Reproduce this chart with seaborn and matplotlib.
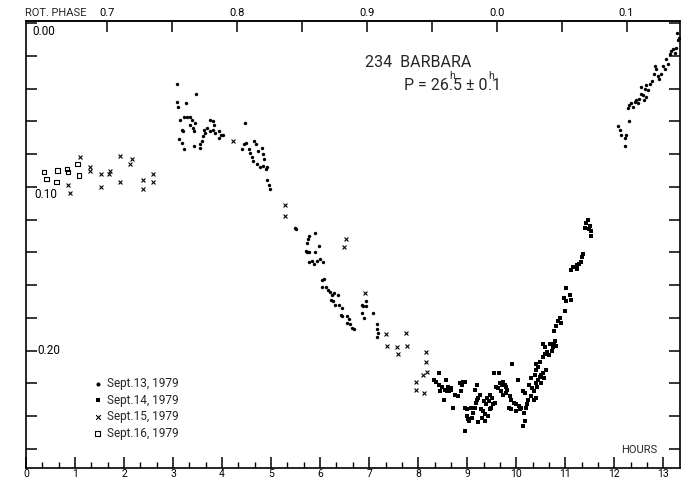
import matplotlib
matplotlib.use("Agg")
import matplotlib.pyplot as plt
import numpy as np
import pandas as pd
import seaborn as sns
from matplotlib.ticker import MultipleLocator, FixedLocator, FixedFormatter

# ---- light-curve data: hours after start, relative magnitude ----
sept13_hours = [
    3.08, 3.47, 3.08, 3.10, 3.27, 3.15, 3.23, 3.28, 3.34, 3.38, 3.45, 3.18, 3.20,
    3.34, 3.41, 3.43, 3.13, 3.18, 3.23, 3.42, 3.55, 3.54, 3.59, 3.62, 3.66, 3.64,
    3.69, 3.76, 3.81, 3.76, 3.81, 3.84, 3.86, 3.93, 3.98, 3.93, 4.02, 4.47, 4.44,
    4.49, 4.40, 4.54, 4.57, 4.61, 4.64, 4.65, 4.69, 4.74, 4.81, 4.83, 4.86, 4.71,
    4.78, 4.84, 4.90, 4.92, 4.91, 4.95, 4.98,
    5.49, 5.50, 5.78, 5.76, 5.73, 5.90, 5.98, 5.71, 5.74, 5.78, 5.90, 5.83, 5.78,
    5.88, 5.94, 6.00, 6.05, 6.03, 6.08, 6.04, 6.12, 6.17, 6.20, 6.24, 6.28, 6.36,
    6.22, 6.27, 6.31, 6.38, 6.44, 6.42, 6.45, 6.55, 6.59, 6.54, 6.61, 6.65, 6.69,
    6.93, 6.85, 6.88, 6.93, 6.85, 6.89, 7.08, 7.15, 7.16, 7.18, 7.15,
    12.07, 12.11, 12.14, 12.21, 12.23, 12.21, 12.31, 12.28, 12.31, 12.35, 12.38,
    12.42, 12.45, 12.48, 12.51, 12.55, 12.58, 12.60, 12.64, 12.55, 12.62, 12.65,
    12.68, 12.72, 12.77, 12.82, 12.86, 12.84, 12.89, 12.92, 12.96, 12.99, 13.03,
    13.06, 13.09, 13.13, 13.16, 13.19, 13.23, 13.26, 13.27, 13.29, 13.32,
]
sept13_mag = [
    0.037, 0.043, 0.048, 0.051, 0.049, 0.059, 0.057, 0.057, 0.057, 0.059, 0.061, 0.065, 0.066,
    0.062, 0.064, 0.066, 0.071, 0.073, 0.077, 0.075, 0.074, 0.076, 0.072, 0.069, 0.067, 0.065,
    0.064, 0.066, 0.065, 0.059, 0.060, 0.062, 0.067, 0.066, 0.068, 0.070, 0.068, 0.061, 0.074,
    0.073, 0.077, 0.077, 0.079, 0.082, 0.084, 0.072, 0.074, 0.078, 0.076, 0.080, 0.083, 0.086,
    0.088, 0.087, 0.089, 0.088, 0.096, 0.099, 0.101,
    0.125, 0.126, 0.130, 0.132, 0.134, 0.128, 0.136, 0.139, 0.140, 0.140, 0.140, 0.145, 0.146,
    0.147, 0.145, 0.144, 0.146, 0.157, 0.156, 0.161, 0.161, 0.163, 0.164, 0.166, 0.165, 0.166,
    0.169, 0.170, 0.172, 0.172, 0.174, 0.178, 0.179, 0.179, 0.181, 0.183, 0.184, 0.186, 0.187,
    0.170, 0.172, 0.173, 0.173, 0.177, 0.180, 0.177, 0.184, 0.187, 0.189, 0.192,
    0.063, 0.065, 0.068, 0.070, 0.068, 0.075, 0.060, 0.052, 0.050, 0.049, 0.051,
    0.048, 0.047, 0.049, 0.046, 0.043, 0.044, 0.047, 0.045, 0.039, 0.040, 0.038,
    0.041, 0.037, 0.035, 0.031, 0.028, 0.026, 0.032, 0.034, 0.031, 0.026, 0.028,
    0.022, 0.025, 0.019, 0.017, 0.016, 0.018, 0.015, 0.006, 0.010, 0.009,
]

sept14_hours = [
    8.43, 8.33, 8.37, 8.43, 8.48, 8.54, 8.58, 8.63, 8.67, 8.61, 8.66, 8.56, 8.44,
    8.53, 8.70, 8.75, 8.81, 8.88, 8.85, 8.92, 8.89, 8.95, 8.95, 8.95, 8.99, 9.00,
    9.02, 9.04, 9.09, 9.11, 9.07, 9.15, 9.18, 9.20, 9.22, 9.15, 9.19, 9.26, 9.29,
    9.32, 9.36, 9.31, 9.36, 9.22, 9.42, 9.46, 9.49, 9.53, 9.56, 9.51, 9.46, 9.41,
    9.34, 9.38, 9.45, 9.54, 9.65, 9.58, 9.66, 9.70, 9.73, 9.77, 9.80, 9.81, 9.79,
    9.73, 9.68, 9.63, 9.87, 9.90, 9.95, 10.00, 10.06, 10.10, 10.07, 9.99, 9.90,
    9.85, 9.92, 10.13, 10.17, 10.24, 10.22, 10.19, 10.15, 10.17, 10.14, 10.04,
    10.27, 10.33, 10.36, 10.40, 10.42, 10.44, 10.48, 10.51, 10.55, 10.60, 10.56,
    10.51, 10.31, 10.36, 10.40, 10.31, 10.38, 10.40, 10.41, 10.44, 10.49, 10.55,
    10.58, 10.63, 10.67, 10.72, 10.74, 10.76, 10.80, 10.55, 10.58, 10.68, 10.82,
    10.78, 10.82, 10.85, 10.89, 10.92, 10.99, 11.02, 10.97, 11.01, 11.09, 11.12,
    11.12, 11.16, 11.23, 11.23, 11.29, 11.33, 11.35, 11.36, 11.40, 11.43, 11.46,
    11.48, 11.50, 11.53, 11.53,
]
sept14_mag = [
    0.214, 0.218, 0.219, 0.221, 0.222, 0.224, 0.225, 0.225, 0.224, 0.222, 0.223, 0.218, 0.225,
    0.230, 0.235, 0.227, 0.228, 0.225, 0.220, 0.219, 0.221, 0.219, 0.249, 0.235, 0.236, 0.240,
    0.242, 0.243, 0.241, 0.238, 0.235, 0.235, 0.232, 0.230, 0.229, 0.224, 0.221, 0.227, 0.236,
    0.237, 0.239, 0.241, 0.243, 0.244, 0.240, 0.236, 0.235, 0.233, 0.232, 0.229, 0.227, 0.229,
    0.231, 0.233, 0.231, 0.214, 0.214, 0.222, 0.220, 0.221, 0.219, 0.221, 0.222, 0.224, 0.226,
    0.227, 0.225, 0.223, 0.228, 0.230, 0.232, 0.233, 0.234, 0.235, 0.236, 0.237, 0.236,
    0.235, 0.208, 0.225, 0.226, 0.230, 0.233, 0.235, 0.238, 0.243, 0.246, 0.218,
    0.221, 0.223, 0.225, 0.220, 0.222, 0.218, 0.216, 0.215, 0.214, 0.212, 0.217,
    0.220, 0.228, 0.230, 0.229, 0.217, 0.215, 0.212, 0.208, 0.210, 0.207, 0.204,
    0.202, 0.201, 0.203, 0.200, 0.198, 0.196, 0.194, 0.196, 0.198, 0.196, 0.197,
    0.188, 0.185, 0.182, 0.180, 0.183, 0.176, 0.170, 0.168, 0.162, 0.166, 0.169,
    0.151, 0.149, 0.150, 0.148, 0.147, 0.146, 0.143, 0.141, 0.125, 0.122, 0.120,
    0.126, 0.124, 0.127, 0.130,
]

sept15_hours = [
    0.86, 0.89, 1.11, 1.31, 1.31, 1.54, 1.53, 1.72, 1.70, 1.91, 1.91, 2.16, 2.13,
    2.39, 2.39, 2.59, 2.59, 4.22, 5.29, 5.29, 6.52, 6.49, 6.91, 7.34, 7.36, 7.56,
    7.58, 7.75, 7.78, 7.95, 7.95, 8.10, 8.12, 8.15, 8.15, 8.17,
]
sept15_mag = [
    0.099, 0.104, 0.082, 0.088, 0.090, 0.100, 0.092, 0.090, 0.092, 0.081, 0.097, 0.083, 0.086,
    0.096, 0.101, 0.092, 0.097, 0.072, 0.111, 0.118, 0.132, 0.137, 0.165, 0.190, 0.197, 0.198,
    0.202, 0.189, 0.197, 0.219, 0.224, 0.215, 0.226, 0.201, 0.207, 0.213,
]

sept16_hours = [0.37, 0.42, 0.64, 0.62, 0.84, 0.86, 1.05, 1.08]
sept16_mag = [0.091, 0.095, 0.090, 0.097, 0.089, 0.091, 0.086, 0.093]

night_labels = ["Sept.13, 1979", "Sept.14, 1979", "Sept.15, 1979", "Sept.16, 1979"]

# axis annotation values
hour_ticks = list(range(0, 14))
mag_label_values = [0.00, 0.10, 0.20]
mag_label_texts = ["0.00", "0.10", "0.20"]
phase_ticks = [0.70, 0.75, 0.80, 0.85, 0.90, 0.95, 1.00, 1.05, 1.10]
phase_labels = ["0.7", "", "0.8", "", "0.9", "", "0.0", "", "0.1"]
period_hours = 26.5
period_error = 0.1
phase_ref, phase_ref_hour = 0.70, 1.65

frames = []
for label, h, m in zip(
    night_labels,
    [sept13_hours, sept14_hours, sept15_hours, sept16_hours],
    [sept13_mag, sept14_mag, sept15_mag, sept16_mag],
):
    frames.append(pd.DataFrame({"hours": h, "mag": m, "night": label}))
df = pd.concat(frames, ignore_index=True)

sns.set_theme(style="ticks")
plt.rcParams["font.family"] = ["Roboto", "DejaVu Sans"]

W, H = 681, 480
fig = plt.figure(figsize=(W / 100, H / 100), dpi=100)
fig.patch.set_facecolor("white")
ax_l, ax_r, ax_t, ax_b = 26, 679.5, 20.7, 468.3
ax = fig.add_axes([ax_l / W, 1 - ax_b / H, (ax_r - ax_l) / W, (ax_b - ax_t) / H])

styles = {
    "Sept.13, 1979": dict(marker="o", s=6, linewidth=0),
    "Sept.14, 1979": dict(marker="s", s=5, linewidth=0),
    "Sept.15, 1979": dict(marker="x", s=8, linewidth=0.8),
    "Sept.16, 1979": dict(marker="s", s=10, linewidth=0.8),
}
for label in night_labels:
    sub = df[df["night"] == label]
    sns.scatterplot(data=sub, x="hours", y="mag", color="black", label=label,
                    ax=ax, legend=False, **styles[label])
    if label == "Sept.16, 1979":
        coll = ax.collections[-1]
        coll.set_facecolor("none")
        coll.set_edgecolor("black")

ax.set_xlim(0, 13.33)
ax.set_ylim(0.272, -0.0016)
ax.set_xlabel("")
ax.set_ylabel("")

for sp in ax.spines.values():
    sp.set_visible(True)
    sp.set_linewidth(1.2)
    sp.set_color("black")

ax.xaxis.set_major_locator(FixedLocator(hour_ticks))
ax.xaxis.set_major_formatter(FixedFormatter([str(t) for t in hour_ticks]))
ax.xaxis.set_minor_locator(MultipleLocator(1 / 3))
ax.tick_params(axis="x", which="major", direction="in", length=8, width=1.1,
               labelsize=7.5, pad=0.8, top=False, bottom=True, colors="black")
ax.tick_params(axis="x", which="minor", direction="in", length=4, width=1.0,
               top=False, bottom=True, colors="black")

ax.yaxis.set_major_locator(MultipleLocator(0.02))
ax.tick_params(axis="y", which="major", direction="in", length=8, width=1.1,
               left=True, right=True, labelleft=False, colors="black")

# magnitude labels drawn inside the frame
offsets = {0.00: (4.5, -6.0), 0.10: (6.0, -5.8), 0.20: (8.0, 0.0)}
for v, t in zip(mag_label_values, mag_label_texts):
    dx, dy = offsets[v]
    ax.annotate(t, xy=(0, v), xycoords=("axes fraction", "data"),
                xytext=(dx, dy), textcoords="offset points",
                ha="left", va="center", fontsize=8.5, color="black")

# rotational phase along the top
def to_phase(h):
    return phase_ref + (np.asarray(h) - phase_ref_hour) / period_hours

def to_hours(p):
    return phase_ref_hour + (np.asarray(p) - phase_ref) * period_hours

sec = ax.secondary_xaxis("top", functions=(to_phase, to_hours))
sec.xaxis.set_major_locator(FixedLocator(phase_ticks))
sec.xaxis.set_major_formatter(FixedFormatter(phase_labels))
sec.tick_params(axis="x", direction="in", length=8, width=1.1, labelsize=8,
                pad=2, colors="black")
sec.spines["top"].set_linewidth(1.2)

fig.text(25 / W, 1 - 13.5 / H, "ROT. PHASE", fontsize=8, ha="left", va="center")
fig.text(365 / W, 1 - 66.7 / H, "234  BARBARA", fontsize=11.5, ha="left", va="baseline")

# period line, with the hour mark set above each decimal point
renderer = fig.canvas.get_renderer()
p_int, p_frac = f"{period_hours:.1f}".split(".")
e_int, e_frac = f"{period_error:.1f}".split(".")
pieces = [f"P = {p_int}", ".", f"{p_frac} ± {e_int}", ".", e_frac]
x_px, base_px = 404.0, H - 90.0
for piece in pieces:
    t = fig.text(x_px / W, base_px / H, piece, fontsize=11.5, ha="left", va="baseline")
    w = t.get_window_extent(renderer).width
    if piece == ".":
        fig.text((x_px + w / 2 + 1.5) / W, (base_px + 11) / H, "h", fontsize=7.5,
                 ha="center", va="baseline")
    x_px += w

fig.text(621.5 / W, 1 - 450 / H, "HOURS", fontsize=8, ha="left", va="center")

leg = ax.legend(loc="upper left", bbox_to_anchor=(0.1025, 0.204), frameon=False,
                fontsize=8.5, handlelength=0.8, handletextpad=0.4,
                labelspacing=0.3, borderpad=0, borderaxespad=0, markerscale=1.2)

fig.savefig("out.png", dpi=100, facecolor="white")
